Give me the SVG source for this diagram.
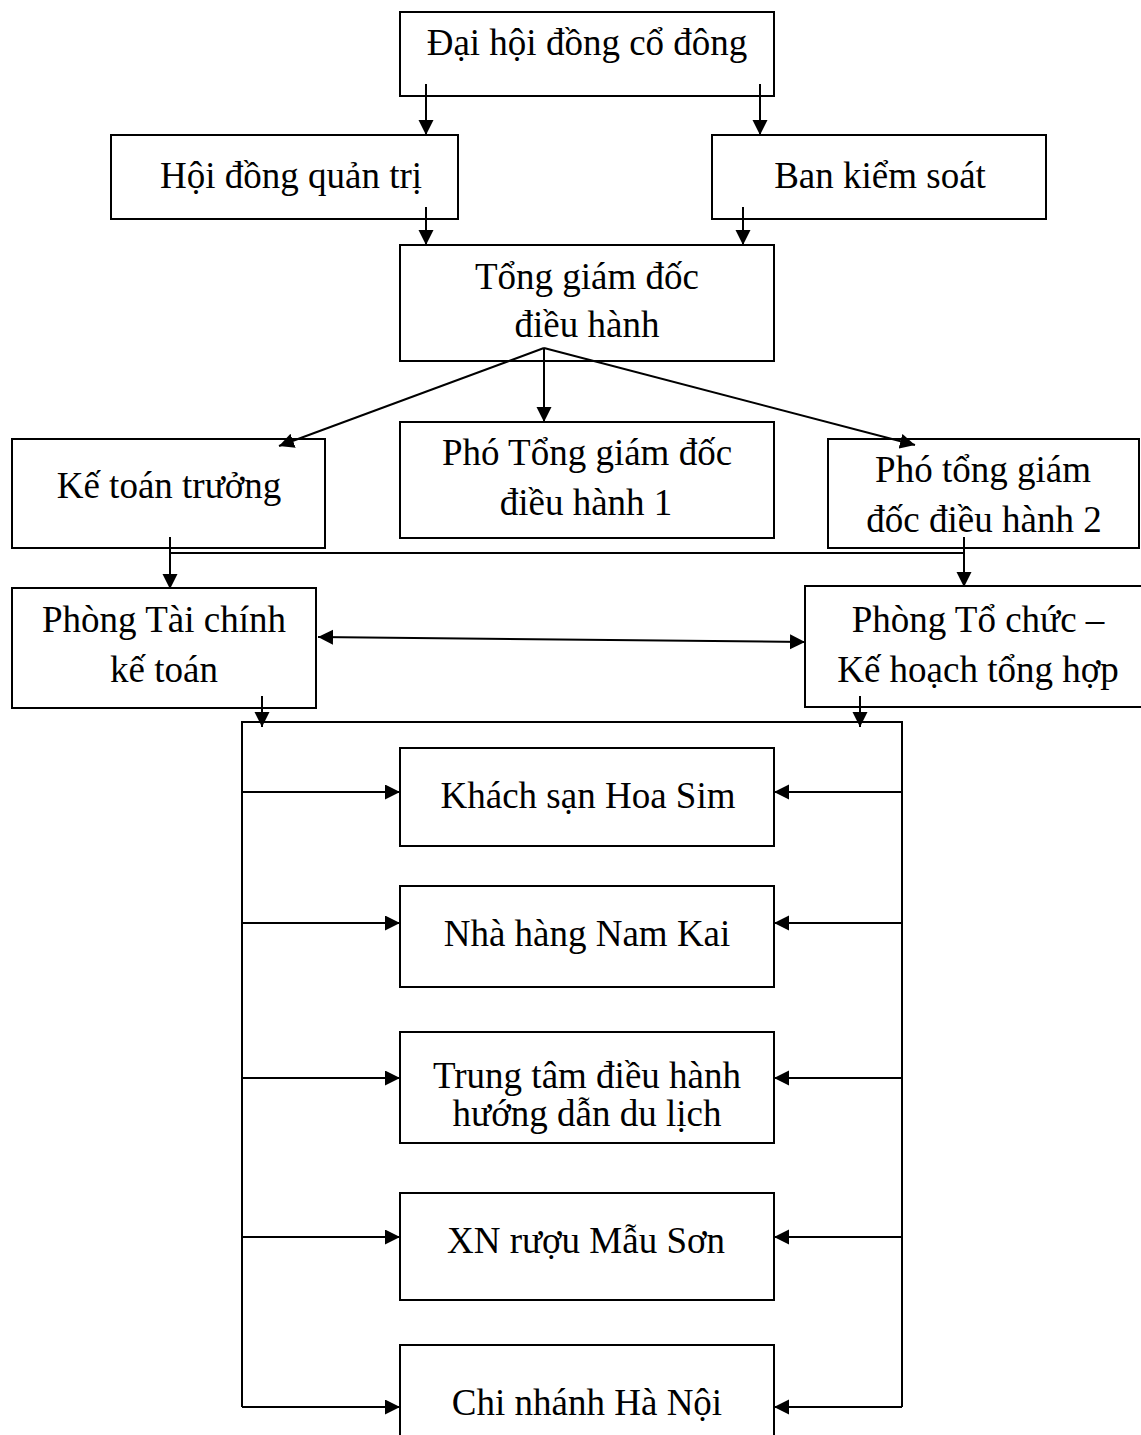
<svg xmlns="http://www.w3.org/2000/svg" width="1141" height="1435" viewBox="0 0 1141 1435">
<style>
.box{fill:#fff;stroke:#000;stroke-width:2}
.t{font-family:"Liberation Serif","Times New Roman",serif;font-size:37px;fill:#000;text-anchor:middle}
.c{fill:none;stroke:#000;stroke-width:2}
.a{marker-end:url(#ah)}
</style>
<defs>
<marker id="ah" markerUnits="userSpaceOnUse" markerWidth="16" markerHeight="16" refX="15" refY="7.5" orient="auto-start-reverse" viewBox="0 0 16 16">
<path d="M0,0 L15,7.5 L0,15 z" fill="#000"/>
</marker>
</defs>
<rect width="1141" height="1435" fill="#fff"/>
<g id="n1"><rect class="box" x="400" y="12" width="374" height="84"/><text class="t" x="587" y="55">Đại hội đồng cổ đông</text></g>
<g id="n2"><rect class="box" x="111" y="135" width="347" height="84"/><text class="t" x="291" y="188">Hội đồng quản trị</text></g>
<g id="n3"><rect class="box" x="712" y="135" width="334" height="84"/><text class="t" x="880" y="188">Ban kiểm soát</text></g>
<g id="n4"><rect class="box" x="400" y="245" width="374" height="116"/><text class="t" x="587" y="289">Tổng giám đốc</text><text class="t" x="587" y="337">điều hành</text></g>
<g id="n5"><rect class="box" x="12" y="439" width="313" height="109"/><text class="t" x="169" y="498">Kế toán trưởng</text></g>
<g id="n6"><rect class="box" x="400" y="422" width="374" height="116"/><text class="t" x="587" y="465">Phó Tổng giám đốc</text><text class="t" x="586" y="515">điều hành 1</text></g>
<g id="n7"><rect class="box" x="828" y="439" width="311" height="109"/><text class="t" x="983" y="482">Phó tổng giám</text><text class="t" x="984" y="532">đốc điều hành 2</text></g>
<g id="n8"><rect class="box" x="12" y="588" width="304" height="120"/><text class="t" x="164" y="632">Phòng Tài chính</text><text class="t" x="164" y="682">kế toán</text></g>
<g id="n9"><rect class="box" x="805" y="586" width="345" height="121"/><text class="t" x="978" y="632">Phòng Tổ chức –</text><text class="t" x="978" y="682">Kế hoạch tổng hợp</text></g>
<g id="n10"><rect class="box" x="400" y="748" width="374" height="98"/><text class="t" x="588" y="808">Khách sạn Hoa Sim</text></g>
<g id="n11"><rect class="box" x="400" y="886" width="374" height="101"/><text class="t" x="587" y="946">Nhà hàng Nam Kai</text></g>
<g id="n12"><rect class="box" x="400" y="1032" width="374" height="111"/><text class="t" x="587" y="1088">Trung tâm điều hành</text><text class="t" x="587" y="1126">hướng dẫn du lịch</text></g>
<g id="n13"><rect class="box" x="400" y="1193" width="374" height="107"/><text class="t" x="586" y="1253">XN rượu Mẫu Sơn</text></g>
<g id="n14"><rect class="box" x="400" y="1345" width="374" height="110"/><text class="t" x="587" y="1415">Chi nhánh Hà Nội</text></g>
<g id="connectors">
<path class="c a" d="M426,84 V135"/>
<path class="c a" d="M760,84 V135"/>
<path class="c a" d="M426,207 V245"/>
<path class="c a" d="M743,207 V245"/>
<path class="c a" d="M544,348 L279,446"/>
<path class="c a" d="M544,348 V422"/>
<path class="c a" d="M544,348 L915,445"/>
<path class="c" d="M170,553 H964"/>
<path class="c a" d="M170,537 V589"/>
<path class="c a" d="M964,537 V587"/>
<path class="c a" d="M318,637 L805,642" marker-start="url(#ah)"/>
<path class="c a" d="M262,696 V727"/>
<path class="c a" d="M860,696 V727"/>
<path class="c" d="M242,1407 V722 H902 V1407"/>
<path class="c a" d="M242,792 H400"/>
<path class="c a" d="M242,923 H400"/>
<path class="c a" d="M242,1078 H400"/>
<path class="c a" d="M242,1237 H400"/>
<path class="c a" d="M242,1407 H400"/>
<path class="c a" d="M902,792 H774"/>
<path class="c a" d="M902,923 H774"/>
<path class="c a" d="M902,1078 H774"/>
<path class="c a" d="M902,1237 H774"/>
<path class="c a" d="M902,1407 H774"/>
</g>
</svg>
